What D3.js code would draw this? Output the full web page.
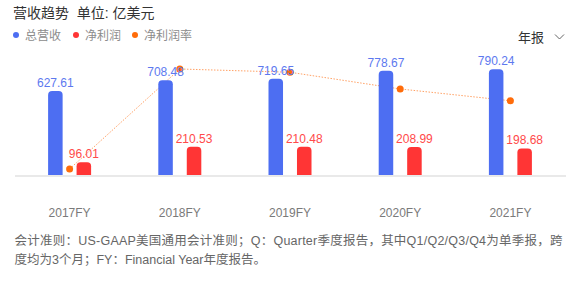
<!DOCTYPE html>
<html>
<head>
<meta charset="utf-8">
<script src="https://cdn.jsdelivr.net/npm/d3@7"></script>
<style>
  html, body { margin: 0; padding: 0; background: #fff; }
  svg text { font-family: "Liberation Sans", Arial, "Noto Sans CJK SC", sans-serif; }
</style>
</head>
<body>
<svg id="chart" width="580" height="282"></svg>
<script>
var years = ['2017FY', '2018FY', '2019FY', '2020FY', '2021FY'];
var revenue = [627.61, 708.48, 719.65, 778.67, 790.24];
var netProfit = [96.01, 210.53, 210.48, 208.99, 198.68];
var netMargin = [15.30, 29.72, 29.25, 26.84, 25.14];
var legendLabels = ['总营收', '净利润', '净利润率'];
var noteLines = [
    '会计准则：US-GAAP美国通用会计准则；Q：Quarter季度报告，其中Q1/Q2/Q3/Q4为单季报，跨',
    '度均为3个月；FY：Financial Year年度报告。'
];

var blue = '#4d6ef2', blueText = '#5d79ef';
var red = '#ff3535', redText = '#ff4a4a';
var orange = '#ff6c0a', orangeLine = '#ffa266';

var svg = d3.select('#chart');

// title + legend
svg.append('text')
    .attr('x', 13).attr('y', 18)
    .attr('font-size', 14).attr('fill', '#333')
    .attr('xml:space', 'preserve')
    .text('营收趋势  单位: 亿美元');

var legendX = [16, 76, 135];
var legendColors = [blue, red, orange];
legendLabels.forEach(function(d, i) {
    svg.append('circle')
        .attr('cx', legendX[i]).attr('cy', 35).attr('r', 3)
        .attr('fill', legendColors[i]);
    svg.append('text')
        .attr('x', legendX[i] + 9).attr('y', 39.5)
        .attr('font-size', 12).attr('fill', '#8c8c8c')
        .text(d);
});

svg.append('text')
    .attr('x', 518).attr('y', 42)
    .attr('font-size', 13).attr('fill', '#333')
    .text('年报');
svg.append('polyline')
    .attr('points', '555,34.5 559.5,39 564,34.5')
    .attr('fill', 'none').attr('stroke', '#666').attr('stroke-width', 1);

// scales
var x = d3.scaleBand().domain(years).range([14.5, 565.5]);
var sub = d3.scaleBand().domain(['rev', 'np']).range([-21.5, 21.5]).paddingInner(0.49);
var y = d3.scaleLinear().domain([0, 1000]).range([175, 41.2]);
var yr = d3.scaleLinear().domain(d3.extent(netMargin)).range([169, 69]);

var cx = function(i) { return x(years[i]) + x.bandwidth() / 2; };

// baseline
svg.append('line')
    .attr('x1', 15).attr('x2', 566)
    .attr('y1', 176).attr('y2', 176)
    .attr('stroke', '#e9e9e9').attr('stroke-width', 2);

// rounded-top bar path
function barPath(x0, w, top, bottom) {
    var r = Math.min(4, w / 2, bottom - top);
    return 'M' + x0 + ',' + bottom +
        'V' + (top + r) +
        'Q' + x0 + ',' + top + ' ' + (x0 + r) + ',' + top +
        'H' + (x0 + w - r) +
        'Q' + (x0 + w) + ',' + top + ' ' + (x0 + w) + ',' + (top + r) +
        'V' + bottom + 'Z';
}

// net margin line (behind)
var line = d3.line()
    .x(function(d, i) { return cx(i); })
    .y(function(d) { return yr(d); });
svg.append('path')
    .datum(netMargin)
    .attr('d', line)
    .attr('fill', 'none')
    .attr('stroke', orangeLine)
    .attr('stroke-width', 1)
    .attr('stroke-dasharray', '1.5,1.5');
svg.selectAll('circle.rate')
    .data(netMargin)
    .enter().append('circle')
    .attr('class', 'rate')
    .attr('cx', function(d, i) { return cx(i); })
    .attr('cy', function(d) { return yr(d); })
    .attr('r', 3.5)
    .attr('fill', orange);

// bars
var series = [
    { key: 'rev', values: revenue, color: blue, text: blueText },
    { key: 'np', values: netProfit, color: red, text: redText }
];
series.forEach(function(s) {
    svg.selectAll('path.bar-' + s.key)
        .data(s.values)
        .enter().append('path')
        .attr('class', 'bar-' + s.key)
        .attr('d', function(d, i) {
            return barPath(cx(i) + sub(s.key), sub.bandwidth(), y(d), y(0));
        })
        .attr('fill', s.color);
});
series.forEach(function(s) {
    svg.selectAll('text.lbl-' + s.key)
        .data(s.values)
        .enter().append('text')
        .attr('class', 'lbl-' + s.key)
        .attr('x', function(d, i) { return cx(i) + sub(s.key) + sub.bandwidth() / 2; })
        .attr('y', function(d) { return y(d) - 4; })
        .attr('text-anchor', 'middle')
        .attr('font-size', 12)
        .attr('fill', s.text)
        .text(function(d) { return d.toFixed(2); });
});

// x axis labels
svg.selectAll('text.xl')
    .data(years)
    .enter().append('text')
    .attr('class', 'xl')
    .attr('x', function(d, i) { return cx(i); })
    .attr('y', 216.5)
    .attr('text-anchor', 'middle')
    .attr('font-size', 12)
    .attr('fill', '#7a7a7a')
    .text(function(d) { return d; });

// footnote
var note = svg.append('text')
    .attr('font-size', 12.5)
    .attr('fill', '#666');
noteLines.forEach(function(t, i) {
    var ts = note.append('tspan')
        .attr('x', 14.5)
        .attr('y', 244.5 + i * 19)
        .text(t);
    if (i === 0) ts.attr('textLength', 548).attr('lengthAdjust', 'spacing');
});
</script>
</body>
</html>
